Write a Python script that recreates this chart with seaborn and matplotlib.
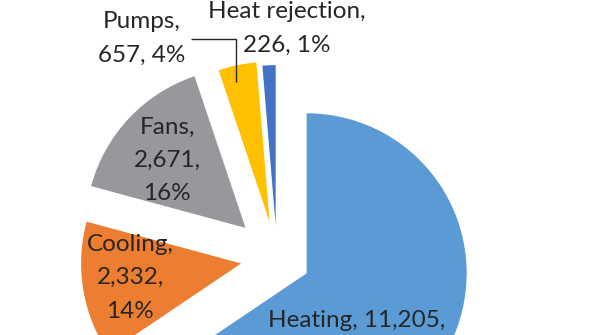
import numpy as np
import matplotlib
matplotlib.use("Agg")
import matplotlib.pyplot as plt
import seaborn as sns

# ---- data ----
categories = ["Heating", "Cooling", "Fans", "Pumps", "Heat rejection"]
values = [11205, 2332, 2671, 657, 226]
colors = ["#5B9BD5", "#ED7D31", "#96989B", "#FFC000", "#4472C4"]
explode_frac = [0.21, 0.2275, 0.27, 0.227, 0.2025]

sns.set_theme(style="white")
plt.rcParams['font.family'] = ['Lato', 'DejaVu Sans']

W, H = 595, 335
fig = plt.figure(figsize=(W / 100, H / 100), dpi=100)
ax = fig.add_axes([0, 0, 1, 1])

R = 160
center = (277, H - 257.5)
wedges, _ = ax.pie(values, colors=colors,
                   explode=[f * R for f in explode_frac], radius=R,
                   center=center, startangle=90, counterclock=False,
                   wedgeprops=dict(linewidth=0))
ax.set_xlim(0, W)
ax.set_ylim(0, H)
ax.set_aspect('equal')
ax.axis('off')

total = sum(values)
pct = [round(v / total * 100) for v in values]

fs = 17.5
ls = 1.72
tc = "#262626"
kw = dict(ha='center', va='baseline', fontsize=fs, color=tc, linespacing=ls)

# label layout (x, last-line baseline measured from top)
ax.text(356.5, H - 326.7, f"{categories[0]}, {values[0]:,},", **kw)
ax.text(130, H - 317.5, f"{categories[1]},\n{values[1]:,},\n{pct[1]}%", **kw)
ax.text(167, H - 200, f"{categories[2]},\n{values[2]:,},\n{pct[2]}%", **kw)
ax.text(287, H - 51.7, f"{categories[4]},\n{values[4]:,}, {pct[4]}%", **kw)

# pumps label with leader line into its wedge
w = wedges[3]
mid = np.deg2rad((w.theta1 + w.theta2) / 2 + 2)
cx, cy = w.center
tip = (cx + 0.9 * w.r * np.cos(mid), cy + 0.9 * w.r * np.sin(mid))
t = ax.text(142, H - 61.7, f"{categories[3]},\n{values[3]:,}, {pct[3]}%", **kw)
fig.canvas.draw()
bb = t.get_window_extent().transformed(ax.transData.inverted())
ymid = (bb.y0 + bb.y1) / 2
ax.plot([bb.x1 + 5, tip[0], tip[0]], [ymid, ymid, tip[1]],
        color='#262626', lw=1, solid_capstyle='butt')

fig.savefig("out.png", dpi=100)
